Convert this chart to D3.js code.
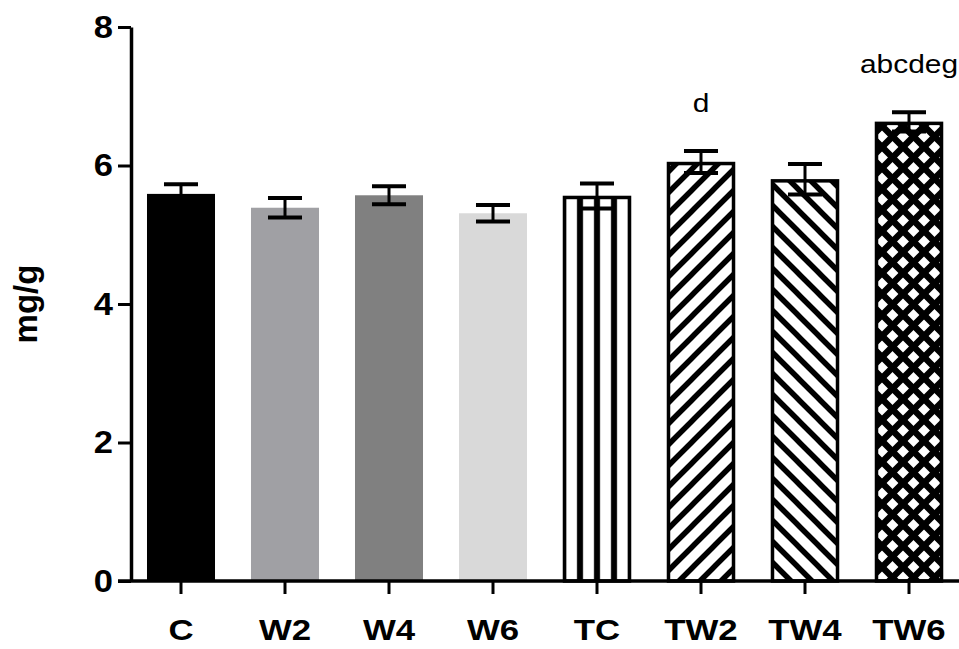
<!DOCTYPE html>
<html>
<head>
<meta charset="utf-8">
<script src="https://cdn.jsdelivr.net/npm/d3@7"></script>
<style>
  html, body { margin: 0; padding: 0; background: #fff; }
  svg { display: block; }
  text { font-family: "Liberation Sans", Arial, sans-serif; }
</style>
</head>
<body>
<svg id="chart" width="959" height="649"></svg>
<script>
// ---- data ----
const categories = ["C", "W2", "W4", "W6", "TC", "TW2", "TW4", "TW6"];
const means      = [5.59, 5.39, 5.57, 5.31, 5.56, 6.05, 5.80, 6.63];
const errors     = [0.14, 0.14, 0.13, 0.12, 0.18, 0.16, 0.22, 0.14];
const fills      = ["solid-black", "solid-grayA", "solid-grayB", "solid-grayC", "vstripes", "fwd", "back", "cross"];
const annotations = ["", "", "", "", "", "d", "", "abcdeg"];
const yTicks     = [0, 2, 4, 6, 8];
const yLabel     = "mg/g";

const svg = d3.select("#chart");
const W = 959, H = 649;
const margin = { left: 131, right: 0, top: 27, bottom: 68 };

const x = d3.scaleBand()
  .domain(categories)
  .range([129, 961])
  .paddingInner(0.346)
  .paddingOuter(0.173);

const y = d3.scaleLinear()
  .domain([0, 8])
  .range([H - margin.bottom, margin.top]);

const solidColors = {
  "solid-black": "#000000",
  "solid-grayA": "#a0a0a4",
  "solid-grayB": "#808080",
  "solid-grayC": "#d9d9d9"
};

// ---- patterns ----
const defs = svg.append("defs");
const bw = x.bandwidth();

defs.append("pattern")
  .attr("id", "vstripes")
  .attr("patternUnits", "userSpaceOnUse")
  .attr("x", x("TC"))
  .attr("y", 0)
  .attr("width", bw / 4)
  .attr("height", 10)
  .call(p => {
    p.append("rect").attr("width", bw / 4).attr("height", 10).attr("fill", "#fff");
    p.append("rect").attr("x", bw / 4 - 3).attr("width", 6).attr("height", 10).attr("fill", "#000");
    p.append("rect").attr("x", -3).attr("width", 6).attr("height", 10).attr("fill", "#000");
  });

const period = 21;
function diagPattern(id, dirs, sw) {
  const p = defs.append("pattern")
    .attr("id", id)
    .attr("patternUnits", "userSpaceOnUse")
    .attr("x", 0).attr("y", 0)
    .attr("width", period).attr("height", period);
  p.append("rect").attr("width", period).attr("height", period).attr("fill", "#fff");
  const s = period;
  dirs.forEach(d => {
    const path = d === "fwd"
      ? `M${-s/2},${s/2} L${s/2},${-s/2} M0,${s} L${s},0 M${s/2},${1.5*s} L${1.5*s},${s/2}`
      : `M${-s/2},${s/2} L${s/2},${1.5*s} M0,0 L${s},${s} M${s/2},${-s/2} L${1.5*s},${s/2}`;
    p.append("path").attr("d", path).attr("stroke", "#000").attr("stroke-width", sw).attr("fill", "none");
  });
}
diagPattern("fwd", ["fwd"], 5.5);
diagPattern("back", ["back"], 5.5);
diagPattern("cross", ["fwd", "back"], 6.5);

function fillOf(f) {
  return solidColors[f] ? solidColors[f] : `url(#${f})`;
}

const data = categories.map((c, i) => ({
  cat: c, mean: means[i], err: errors[i], fill: fills[i], note: annotations[i]
}));

// ---- bars ----
const bars = svg.append("g");
bars.selectAll("rect")
  .data(data)
  .join("rect")
  .attr("x", d => x(d.cat) + (solidColors[d.fill] ? 0 : 1.5))
  .attr("y", d => y(d.mean) + (solidColors[d.fill] ? 0 : 1.5))
  .attr("width", d => bw - (solidColors[d.fill] ? 0 : 3))
  .attr("height", d => y(0) - y(d.mean) - (solidColors[d.fill] ? 0 : 1.5))
  .attr("fill", d => fillOf(d.fill))
  .attr("stroke", d => solidColors[d.fill] ? "none" : "#000")
  .attr("stroke-width", 3.5);

// ---- error bars ----
const eb = svg.append("g").attr("stroke", "#000");
const cx = d => x(d.cat) + bw / 2;
eb.selectAll("line.v")
  .data(data).join("line").attr("class", "v")
  .attr("x1", cx).attr("x2", cx)
  .attr("y1", d => y(d.mean + d.err)).attr("y2", d => y(d.mean - d.err))
  .attr("stroke-width", 3);
eb.selectAll("line.top")
  .data(data).join("line").attr("class", "top")
  .attr("x1", d => cx(d) - bw / 4).attr("x2", d => cx(d) + bw / 4)
  .attr("y1", d => y(d.mean + d.err)).attr("y2", d => y(d.mean + d.err))
  .attr("stroke-width", 4);
eb.selectAll("line.bot")
  .data(data).join("line").attr("class", "bot")
  .attr("x1", d => cx(d) - bw / 4).attr("x2", d => cx(d) + bw / 4)
  .attr("y1", d => y(d.mean - d.err)).attr("y2", d => y(d.mean - d.err))
  .attr("stroke-width", 4);

// ---- axes ----
const tickFont = 32, tickStretch = 1.08;
const yAxis = svg.append("g")
  .attr("transform", `translate(${margin.left},0)`)
  .call(d3.axisLeft(y).tickValues(yTicks).tickSize(13).tickSizeOuter(0).tickPadding(5).tickFormat(d3.format("d")));
yAxis.select(".domain").attr("stroke-width", 3.5);
yAxis.selectAll(".tick line").attr("stroke-width", 3);
yAxis.selectAll(".tick text")
  .attr("font-size", tickFont).attr("font-weight", "bold").attr("fill", "#000")
  .attr("font-family", "Liberation Sans, Arial, sans-serif")
  .attr("x", -18 / tickStretch)
  .attr("transform", `scale(${tickStretch},1)`);

const labelFont = 30, labelStretch = 1.16;
const xAxis = svg.append("g")
  .attr("transform", `translate(0,${y(0)})`)
  .call(d3.axisBottom(x).tickSize(13).tickSizeOuter(0).tickPadding(25));
xAxis.select(".domain").remove();
xAxis.selectAll(".tick line").attr("stroke-width", 3);
xAxis.selectAll(".tick text")
  .attr("font-size", labelFont).attr("font-weight", "bold").attr("fill", "#000")
  .attr("font-family", "Liberation Sans, Arial, sans-serif")
  .attr("transform", `scale(${labelStretch},1)`);
xAxis.append("line")
  .attr("x1", margin.left - 13).attr("x2", W)
  .attr("y1", 0).attr("y2", 0)
  .attr("stroke", "#000").attr("stroke-width", 3.5);

// ---- y label ----
svg.append("text")
  .attr("transform", `translate(37,${(y(0) + y(8)) / 2}) rotate(-90)`)
  .attr("text-anchor", "middle")
  .attr("font-size", 33).attr("font-weight", "bold")
  .text(yLabel);

// ---- annotations ----
const noteStretch = 1.15;
svg.append("g").selectAll("text")
  .data(data.filter(d => d.note))
  .join("text")
  .attr("transform", d => `translate(${cx(d)},${y(d.mean + d.err) - 39}) scale(${noteStretch},1)`)
  .attr("text-anchor", "middle")
  .attr("font-size", 26)
  .text(d => d.note);
</script>
</body>
</html>
